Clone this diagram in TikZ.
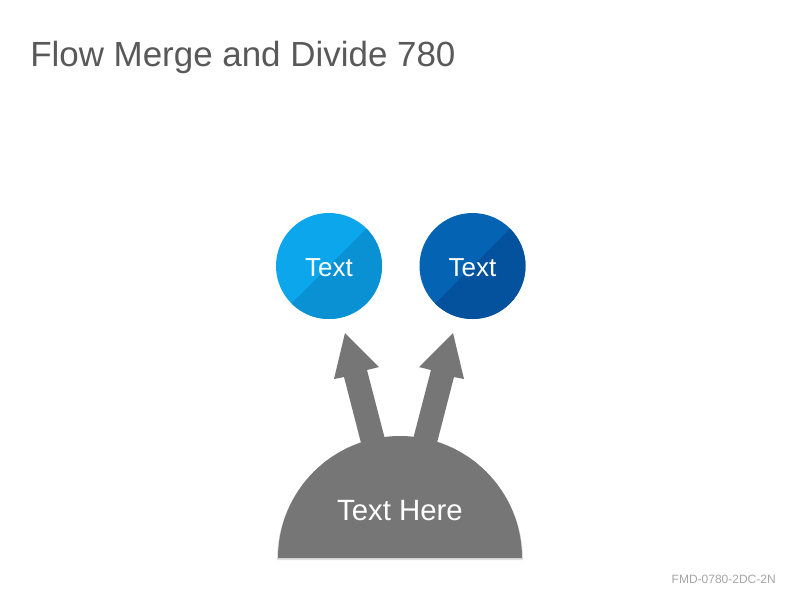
\documentclass[tikz,border=0pt]{standalone}
\usepackage{fontspec}
\setmainfont{Liberation Sans}
\begin{document}
\begin{tikzpicture}[x=0.75pt,y=-0.75pt,
  titletext/.style={anchor=base west,text=titlegray,font=\fontsize{26.2}{30}\selectfont,inner sep=0},
  foottext/.style={anchor=base east,text=footgray,font=\fontsize{9}{11}\selectfont,inner sep=0},
  bubble/.style={circle,minimum size=79.5pt,inner sep=0,fill=#1light,
    path picture={\fill[#1dark] (path picture bounding box.north east) -- (path picture bounding box.south west) -- (path picture bounding box.south east) -- cycle;}},
  bubbletext/.style={anchor=base,text=white,font=\fontsize{19.5}{22}\selectfont,inner sep=0},
  shapegray/.style={fill=arrowgray},
  basetext/.style={anchor=base,text=white,font=\fontsize{22}{26}\selectfont,inner sep=0}]
\definecolor{titlegray}{HTML}{595959}
\definecolor{footgray}{HTML}{A6A6A6}
\definecolor{arrowgray}{HTML}{767676}
\definecolor{cyanlight}{HTML}{0BA6EC}
\definecolor{cyandark}{HTML}{0991D3}
\definecolor{navylight}{HTML}{0563B4}
\definecolor{navydark}{HTML}{04529E}
\useasboundingbox[fill=white] (0,0) rectangle (800,600);
% title and footer
\node[titletext] (title) at (30,66) {Flow Merge and Divide 780};
\node[foottext] (foot) at (776,583) {FMD-0780-2DC-2N};
% arrows
\fill[shapegray] (345,333) -- (379,367) -- (367,370) -- (393,470) -- (368,470) -- (344,377) -- (334,379) -- cycle;
\fill[shapegray] (453,333) -- (464,379) -- (454,377) -- (430,470) -- (405,470) -- (431,370) -- (419,367) -- cycle;
% half disc
\fill[black!12] (277,560) arc[start angle=180,end angle=360,radius=123] -- cycle;
\fill[shapegray] (278,558) arc[start angle=180,end angle=360,radius=122] -- cycle;
\node[basetext] (base) at (400,520) {Text Here};
% circles
\node[bubble=cyan] (c1) at (329,266) {};
\node[bubble=navy] (c2) at (472.5,266) {};
\node[bubbletext] (t1) at (329,276) {Text};
\node[bubbletext] (t2) at (472.5,276) {Text};
\end{tikzpicture}
\end{document}
